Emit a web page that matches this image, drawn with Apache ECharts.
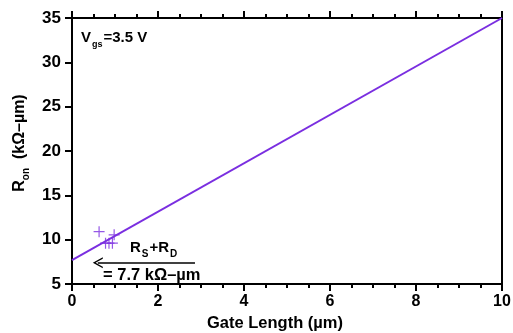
<!DOCTYPE html>
<html>
<head>
<meta charset="utf-8">
<script src="https://cdn.jsdelivr.net/npm/echarts@6/dist/echarts.min.js"></script>
<style>
  html, body { margin: 0; padding: 0; background: #fff; }
  #chart { width: 513px; height: 333px; }
</style>
</head>
<body>
<div id="chart"></div>
<script>
// fitted line R_on vs gate length
const fitLine = [[0, 7.7], [10, 35]];
// measured points
const measured = [[0.63, 10.9], [0.98, 10.55], [0.78, 9.6], [0.86, 9.6], [0.94, 9.6]];
// arrow pointing at the intercept
const arrow = [[2.86, 7.4], [0.6, 7.4]];

const purple = '#7a2ee0';
const font = 'Liberation Sans, Arial, sans-serif';

const chart = echarts.init(document.getElementById('chart'));

const plusSymbol = 'path://M5,0 L5,10 M0,5 L10,5';
const openArrow = 'path://M0,10 L5,0 L10,10 L8.6,10 L5,2.8 L1.4,10 Z';

function tick() {
    return { show: true, inside: false, length: 7, lineStyle: { width: 2, color: '#000' } };
}
function minor() {
    return { show: true, splitNumber: 4, length: 4, lineStyle: { width: 2, color: '#000' } };
}
function axisLine() {
    return { show: true, onZero: false, lineStyle: { color: '#000', width: 2 } };
}

chart.setOption({
    animation: false,
    grid: { left: 72, right: 11, top: 18, bottom: 49, outerBoundsMode: 'none', containLabel: false },
    xAxis: [
        {
            type: 'value', min: 0, max: 10, interval: 2,
            name: 'Gate Length (µm)', nameLocation: 'middle', nameGap: 31,
            nameTextStyle: { fontFamily: font, fontWeight: 'bold', fontSize: 16.5, color: '#000', padding: [0, 24, 0, 0] },
            axisLine: axisLine(),
            axisTick: tick(),
            minorTick: minor(),
            axisLabel: { fontFamily: font, fontWeight: 'bold', fontSize: 16, color: '#000', margin: 10 },
            splitLine: { show: false }
        },
        {
            type: 'value', min: 0, max: 10, interval: 2, position: 'top',
            axisLine: axisLine(),
            axisTick: tick(),
            minorTick: minor(),
            axisLabel: { show: false },
            splitLine: { show: false }
        }
    ],
    yAxis: [
        {
            type: 'value', min: 5, max: 35, interval: 5,
            name: 'R{sub|on}  (kΩ–µm)', nameLocation: 'middle', nameGap: 40, nameRotate: 90,
            nameTextStyle: {
                fontFamily: font, fontWeight: 'bold', fontSize: 16, color: '#000',
                padding: [0, 0, 0, 16],
                rich: { sub: { fontFamily: font, fontWeight: 'bold', fontSize: 10, color: '#000', padding: [13, 0, 0, 0] } }
            },
            axisLine: axisLine(),
            axisTick: tick(),
            axisLabel: { fontFamily: font, fontWeight: 'bold', fontSize: 17, color: '#000', margin: 11 },
            splitLine: { show: false }
        },
        {
            type: 'value', min: 5, max: 35, interval: 5, position: 'right',
            axisLine: axisLine(),
            axisTick: { show: false },
            axisLabel: { show: false },
            splitLine: { show: false }
        }
    ],
    series: [
        {
            type: 'line', data: fitLine, symbol: 'none',
            lineStyle: { color: purple, width: 2 },
            z: 3
        },
        {
            type: 'scatter', data: measured, symbol: plusSymbol, symbolSize: 11,
            itemStyle: { color: 'none', borderColor: purple, borderWidth: 1.2 },
            z: 4
        },
        {
            type: 'line', data: [], symbol: 'none',
            markLine: {
                silent: true, animation: false,
                symbol: ['none', openArrow], symbolSize: [11, 10],
                label: { show: false },
                lineStyle: { color: '#000', width: 1.5, type: 'solid' },
                data: [[{ coord: arrow[0] }, { coord: arrow[1] }]]
            }
        }
    ],
    graphic: [
        {
            type: 'text', left: 81, top: 30,
            style: {
                text: 'V{sub|gs}=3.5 V', fontFamily: font, fontWeight: 'bold', fontSize: 15, fill: '#000',
                rich: { sub: { fontFamily: font, fontWeight: 'bold', fontSize: 9, fill: '#000', padding: [14, 1, 0, 1] } }
            }
        },
        {
            type: 'text', left: 130, top: 240,
            style: {
                text: 'R{sub|S}+R{sub|D}', fontFamily: font, fontWeight: 'bold', fontSize: 15, fill: '#000',
                rich: { sub: { fontFamily: font, fontWeight: 'bold', fontSize: 10, fill: '#000', padding: [14, 1, 0, 1] } }
            }
        },
        {
            type: 'text', left: 103, top: 267,
            style: { text: '= 7.7 kΩ–µm', fontFamily: font, fontWeight: 'bold', fontSize: 16.5, fill: '#000' }
        }
    ]
});
</script>
</body>
</html>
